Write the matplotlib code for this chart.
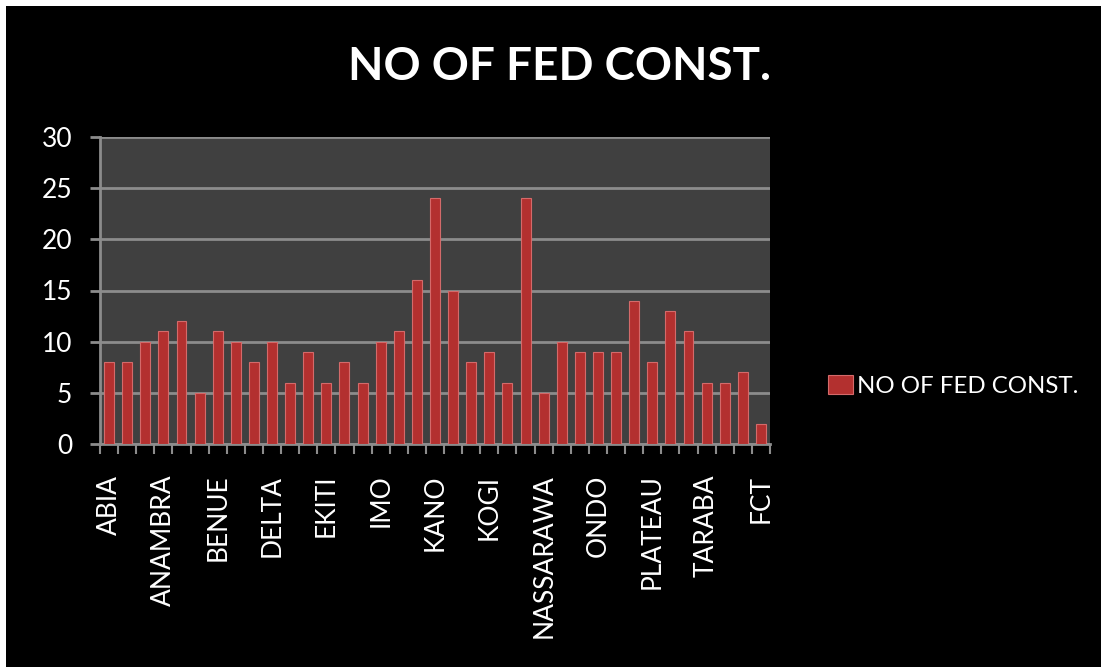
import matplotlib.pyplot as plt
from matplotlib.patches import Rectangle

states = ['ABIA', 'ADAMAWA', 'AKWA IBOM', 'ANAMBRA', 'BAUCHI', 'BAYELSA', 'BENUE',
          'BORNO', 'CROSS RIVER', 'DELTA', 'EBONYI', 'EDO', 'EKITI', 'ENUGU', 'GOMBE',
          'IMO', 'JIGAWA', 'KADUNA', 'KANO', 'KATSINA', 'KEBBI', 'KOGI', 'KWARA',
          'LAGOS', 'NASSARAWA', 'NIGER', 'OGUN', 'ONDO', 'OSUN', 'OYO', 'PLATEAU',
          'RIVERS', 'SOKOTO', 'TARABA', 'YOBE', 'ZAMFARA', 'FCT']
const = [8, 8, 10, 11, 12, 5, 11, 10, 8, 10, 6, 9, 6, 8, 6, 10, 11, 16, 24, 15,
         8, 9, 6, 24, 5, 10, 9, 9, 9, 14, 8, 13, 11, 6, 6, 7, 2]
title = 'NO OF FED CONST.'

plt.rcParams['font.family'] = ['Lato', 'DejaVu Sans']

fig = plt.figure(figsize=(11.01, 6.67), dpi=100)
fig.patch.set_facecolor('white')
# black slide area, leaves a thin white strip top and left
fig.patches.append(Rectangle((6 / 1101, 0), 1, 1 - 6 / 667, transform=fig.transFigure,
                             facecolor='black', edgecolor='none', zorder=-10))

ax = fig.add_axes([100 / 1101, 1 - 444 / 667, 670 / 1101, 307 / 667])
ax.set_facecolor('#404040')

x = list(range(len(states)))
ax.bar(x, const, width=0.55, color='#b3302f', edgecolor='#d46a6a', linewidth=0.8,
       zorder=3, label=title)

ax.set_xlim(-0.5, len(states) - 0.5)
ax.set_ylim(0, 30)
ax.set_yticks(range(0, 31, 5))
ax.yaxis.grid(True, color='#8c8c8c', linewidth=2, zorder=1)
ax.set_axisbelow(True)

ax.set_xticks(x[::3])
ax.set_xticklabels(states[::3], rotation=90, ha='center', va='top')
ax.set_xticks([i - 0.5 for i in range(len(states) + 1)], minor=True)
ax.tick_params(axis='x', which='major', length=0, pad=22, labelsize=19, colors='white')
ax.tick_params(axis='x', which='minor', length=7, width=1.5, color='#8c8c8c', direction='out')
ax.tick_params(axis='y', length=7, width=2, color='#8c8c8c', pad=13, labelsize=19,
               labelcolor='white')

for s in ['top', 'right']:
    ax.spines[s].set_visible(False)
for s in ['left', 'bottom']:
    ax.spines[s].set_color('#8c8c8c')
    ax.spines[s].set_linewidth(2)

fig.text(560 / 1101, 1 - 67 / 667, title, color='white', fontsize=33, fontweight='bold',
         ha='center', va='center')

leg = ax.legend(loc='center left', bbox_to_anchor=(816 / 1101, 1 - 386 / 667),
                bbox_transform=fig.transFigure, frameon=False, fontsize=17.3,
                handlelength=1.05, handleheight=0.8, handletextpad=0.15, borderpad=0)
for t in leg.get_texts():
    t.set_color('white')

fig.savefig('out.png', dpi=100, facecolor=fig.get_facecolor())
